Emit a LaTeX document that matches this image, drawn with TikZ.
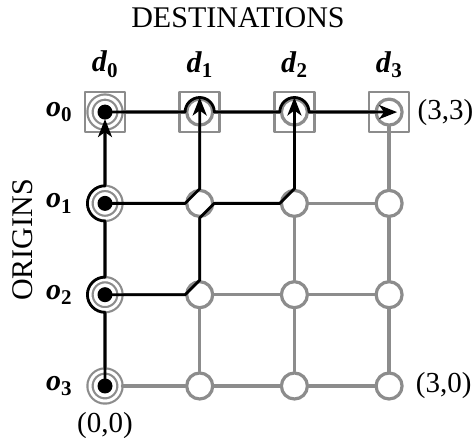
\documentclass[tikz,border=0pt]{standalone}
\usepackage{fontspec}
\setmainfont{Liberation Serif}
\usetikzlibrary{positioning,arrows.meta}
\definecolor{gridgray}{gray}{0.55}
\begin{document}
\begin{tikzpicture}[x=94.7pt,y=91.3pt,line join=round,line cap=round,
    >={Stealth[length=18pt,width=14pt,inset=5pt]},
    cell/.style={circle,draw=gridgray,fill=white,line width=3.2pt,minimum size=26pt,inner sep=0pt},
    orig/.style={circle,draw=gridgray,fill=white,line width=2.2pt,double=white,double distance=3pt,
      minimum size=30pt,inner sep=0pt,outer sep=2.6pt,
      path picture={\fill[black] (path picture bounding box.center) circle (7.5pt);}},
    box/.style={rectangle,draw=gridgray,line width=2.6pt,minimum size=40pt,inner sep=0pt},
    link/.style={draw=gridgray,line width=3.4pt},
    route/.style={draw=black,line width=2.8pt},
    lab/.style={inner sep=0pt,font=\fontsize{29}{34}\selectfont},
    title/.style={inner sep=0pt,font=\fontsize{30}{36}\selectfont},
    idx/.style={inner sep=0pt,font=\fontsize{30}{36}\selectfont\bfseries}]
  \useasboundingbox (-105pt,-52pt) rectangle (371pt,386pt);
  % grid nodes
  \foreach \i in {1,2,3}
    \foreach \j in {0,...,3}
      \node[cell] (n\i\j) at (\i,\j) {};
  \foreach \j in {0,...,3}
    \node[orig] (n0\j) at (0,\j) {};
  \foreach \i in {0,...,3}
    \node[box] (s\i) at (n\i3) {};
  % grid links
  \foreach \i in {0,...,3}
    \foreach \j/\k in {0/1,1/2,2/3} {
      \draw[link] (n\i\j) -- (n\i\k);
      \draw[link] (n\j\i) -- (n\k\i);
    }
  % labels
  \foreach \i in {0,...,3}
    \node[idx,above=13pt of s\i] (d\i) {\textit{d}\textsubscript{\i}};
  \foreach \j/\r in {0/3,1/2,2/1,3/0}
    \node[idx,left=15pt of n0\j] (o\r) {\textit{o}\textsubscript{\r}};
  \node[title] (dest) at (133pt,368pt) {DESTINATIONS};
  \node[title,rotate=90] (origins) at (-82pt,146pt) {ORIGINS};
  \node[lab,below=9pt of n00] (c00) {(0,0)};
  \node[lab,right=7pt of s3] (c33) {(3,3)};
  \node[lab,right=12pt of n30] (c30) {(3,0)};
  % routes
  \draw[route,->] (n00.center) -- (n01.south) arc[start angle=-90,end angle=-270,radius=17.6pt]
    -- (n02.south) arc[start angle=-90,end angle=-270,radius=17.6pt] -- ([yshift=-7pt]n03.center);
  \draw[route,->] (n01.center) -- (n11.west) -- (n11.north) -- (n12.south) -- (n12.east)
    -- (n22.west) -- (n22.north) -- (n23.north);
  \draw[route,->] (n02.center) -- (n12.west) -- (n12.north) -- (n13.north);
  \draw[route,->] (n03.center) -- (n13.west) arc[start angle=180,end angle=0,radius=14.6pt]
    -- (n23.west) arc[start angle=180,end angle=0,radius=14.6pt] -- ([xshift=8pt]n33.center);
\end{tikzpicture}
\end{document}
